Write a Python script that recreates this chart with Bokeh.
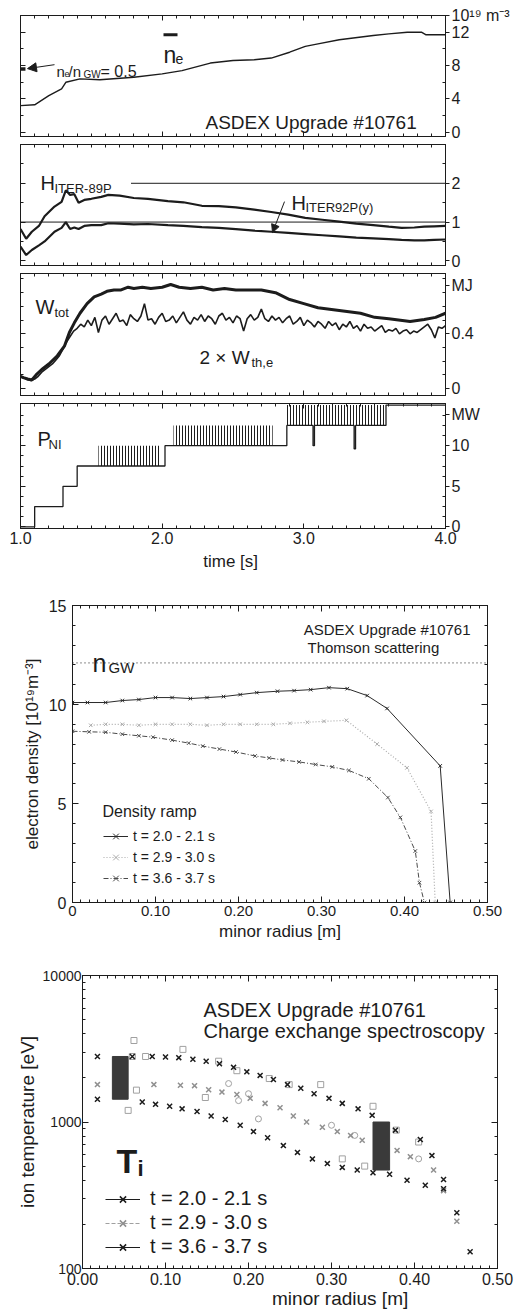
import math
from bokeh.plotting import figure
from bokeh.layouts import column
from bokeh.models import (Range1d, LinearAxis, LogAxis, FixedTicker, Label, Arrow, NormalHead,
                          BoxAnnotation, Span, PrintfTickFormatter, Legend, LegendItem,
                          CustomLabelingPolicy)
from bokeh.embed import file_html
from bokeh.resources import INLINE

FONT = "Liberation Sans"
INK = "#1c1c1c"

# ---------------- time traces, ASDEX Upgrade #10761 ----------------
t_ne = [1.0, 1.1, 1.2, 1.29, 1.32, 1.42, 1.56, 1.8, 2.0, 2.14, 2.34, 2.5, 2.65, 2.77, 2.9,
        3.01, 3.1, 3.25, 3.49, 3.6, 3.73, 3.83, 3.86, 4.0]
ne = [3.2, 3.3, 4.4, 5.2, 6.0, 6.4, 6.3, 6.6, 7.0, 7.4, 8.3, 8.6, 8.7, 8.9, 9.6,
      10.3, 10.6, 11.1, 11.6, 11.8, 12.0, 12.0, 11.7, 11.7]
ne_half_t = [1.0, 1.035]
ne_half = [7.6, 7.6]

t_h = [1.0, 1.04, 1.08, 1.13, 1.17, 1.24, 1.29, 1.32, 1.35, 1.38, 1.41, 1.45, 1.5, 1.57, 1.62,
       1.7, 1.8, 1.9, 2.04, 2.15, 2.28, 2.4, 2.52, 2.65, 2.77, 2.89, 3.01, 3.13, 3.25, 3.37,
       3.49, 3.6, 3.69, 3.78, 3.85, 3.92, 4.0]
h89 = [0.82, 0.57, 0.75, 0.90, 1.15, 1.40, 1.52, 1.82, 1.70, 1.72, 1.50, 1.57, 1.60, 1.65, 1.70,
       1.68, 1.62, 1.60, 1.54, 1.51, 1.42, 1.41, 1.38, 1.32, 1.26, 1.19, 1.11, 1.06, 1.01, 0.96,
       0.92, 0.88, 0.85, 0.86, 0.88, 0.89, 0.90]
h92 = [0.37, 0.15, 0.28, 0.40, 0.50, 0.75, 0.85, 1.00, 0.82, 0.86, 0.82, 0.90, 0.92, 0.92, 0.97,
       0.96, 0.94, 0.95, 0.92, 0.90, 0.87, 0.85, 0.82, 0.78, 0.75, 0.72, 0.69, 0.66, 0.63, 0.60,
       0.58, 0.56, 0.54, 0.53, 0.53, 0.54, 0.55]
h_ref_t = [1.78, 4.0]
h_ref2 = [2.0, 2.0]
h_ref1 = 1.0

t_wtot = [1.0, 1.02, 1.05, 1.08, 1.11, 1.15, 1.2, 1.26, 1.31, 1.345, 1.38, 1.42, 1.47, 1.52, 1.57,
          1.61, 1.66, 1.71, 1.76, 1.8, 1.86, 1.92, 2.0, 2.06, 2.12, 2.2, 2.28, 2.36, 2.44, 2.52,
          2.6, 2.7, 2.8, 2.9, 3.0, 3.1, 3.25, 3.4, 3.5, 3.6, 3.75, 3.85, 3.93, 4.0]
wtot = [0.09, 0.08, 0.07, 0.063, 0.10, 0.14, 0.18, 0.24, 0.31, 0.41, 0.48, 0.55, 0.62, 0.67, 0.69,
        0.71, 0.72, 0.72, 0.74, 0.73, 0.74, 0.73, 0.74, 0.76, 0.74, 0.73, 0.74, 0.72, 0.73, 0.72,
        0.72, 0.72, 0.70, 0.65, 0.62, 0.59, 0.57, 0.55, 0.52, 0.51, 0.49, 0.505, 0.52, 0.55]

t_wth = [1.000, 1.025, 1.050, 1.075, 1.100, 1.125, 1.150, 1.175, 1.200, 1.225, 1.250, 1.275,
         1.300, 1.325, 1.350, 1.375, 1.400, 1.425, 1.450, 1.475, 1.500, 1.525, 1.550, 1.575,
         1.600, 1.625, 1.650, 1.675, 1.700, 1.725, 1.750, 1.775, 1.800, 1.825, 1.850, 1.875,
         1.900, 1.925, 1.950, 1.975, 2.000, 2.025, 2.050, 2.075, 2.100, 2.125, 2.150, 2.175,
         2.200, 2.225, 2.250, 2.275, 2.300, 2.325, 2.350, 2.375, 2.400, 2.425, 2.450, 2.475,
         2.500, 2.525, 2.550, 2.575, 2.600, 2.625, 2.650, 2.675, 2.700, 2.725, 2.750, 2.775,
         2.800, 2.825, 2.850, 2.875, 2.900, 2.925, 2.950, 2.975, 3.000, 3.025, 3.050, 3.075,
         3.100, 3.125, 3.150, 3.175, 3.200, 3.225, 3.250, 3.275, 3.300, 3.325, 3.350, 3.375,
         3.400, 3.425, 3.450, 3.475, 3.500, 3.525, 3.550, 3.575, 3.600, 3.625, 3.650, 3.675,
         3.700, 3.725, 3.750, 3.775, 3.800, 3.825, 3.850, 3.875, 3.900, 3.925, 3.950, 3.975,
         4.000]
wth = [0.09, 0.08, 0.065, 0.06, 0.07, 0.09, 0.12, 0.14, 0.16, 0.18, 0.21, 0.24,
       0.29, 0.34, 0.38, 0.42, 0.44, 0.47, 0.45, 0.50, 0.46, 0.52, 0.41, 0.50,
       0.53, 0.47, 0.51, 0.55, 0.49, 0.50, 0.46, 0.54, 0.51, 0.49, 0.53, 0.62,
       0.50, 0.51, 0.47, 0.52, 0.55, 0.49, 0.50, 0.53, 0.48, 0.52, 0.56, 0.50,
       0.47, 0.52, 0.50, 0.54, 0.49, 0.53, 0.51, 0.47, 0.53, 0.55, 0.50, 0.52,
       0.48, 0.53, 0.51, 0.42, 0.51, 0.54, 0.50, 0.52, 0.58, 0.51, 0.49, 0.53,
       0.50, 0.52, 0.48, 0.51, 0.53, 0.47, 0.49, 0.52, 0.46, 0.50, 0.48, 0.45,
       0.49, 0.47, 0.44, 0.49, 0.46, 0.48, 0.43, 0.47, 0.45, 0.49, 0.44, 0.46,
       0.42, 0.47, 0.44, 0.45, 0.42, 0.44, 0.46, 0.41, 0.43, 0.42, 0.44, 0.40,
       0.42, 0.43, 0.40, 0.42, 0.41, 0.43, 0.45, 0.47, 0.43, 0.37, 0.45, 0.44,
       0.46]

pni_t = [1.0, 1.1, 1.3, 1.4, 2.02, 2.88, 3.065, 3.075, 3.355, 3.365, 3.58, 4.0]
pni = [0.0, 2.5, 5.0, 7.5, 10.0, 12.5, 10.0, 12.5, 9.6, 12.5, 15.0, 15.0]
mod_start = [1.55, 2.08, 2.88]
mod_end = [1.98, 2.78, 3.58]
mod_base = [7.5, 10.0, 12.5]
mod_top = [10.0, 12.5, 15.0]

time_ticks = [1.0, 2.0, 3.0, 4.0]
ne_ticks = [0, 4, 8, 12]
h_ticks = [0, 1, 2]
w_ticks = [0, 0.4]
p_ticks = [0, 5, 10]
ne_unit_at, ne_unit = 13.95, "10\u00b9\u2079 m\u207b\u00b3"
w_unit_at, w_unit = 0.75, "MJ"
p_unit_at, p_unit = 13.86, "MW"

# ---------------- Thomson density profiles ----------------
r_ne1 = [0.0, 0.018, 0.04, 0.06, 0.08, 0.10, 0.12, 0.142, 0.162, 0.182, 0.202, 0.222, 0.247,
         0.267, 0.287, 0.309, 0.331, 0.355, 0.379, 0.443, 0.455]
ne_p1 = [10.1, 10.1, 10.1, 10.2, 10.25, 10.35, 10.35, 10.3, 10.35, 10.4, 10.5, 10.6, 10.67,
         10.7, 10.75, 10.85, 10.8, 10.45, 9.8, 6.9, 0.0]
r_ne2 = [0.022, 0.04, 0.06, 0.08, 0.10, 0.12, 0.142, 0.162, 0.182, 0.202, 0.222, 0.242, 0.262,
         0.283, 0.303, 0.33, 0.367, 0.403, 0.432, 0.437]
ne_p2 = [8.95, 9.0, 9.0, 8.95, 9.0, 9.0, 9.0, 8.95, 9.0, 9.0, 9.0, 9.0, 9.05,
         9.1, 9.15, 9.2, 8.0, 6.8, 4.6, 0.0]
r_ne3 = [0.0, 0.02, 0.04, 0.06, 0.08, 0.097, 0.12, 0.14, 0.157, 0.177, 0.197, 0.22, 0.237,
         0.253, 0.273, 0.293, 0.313, 0.333, 0.357, 0.38, 0.395, 0.413, 0.418, 0.424]
ne_p3 = [8.65, 8.62, 8.6, 8.5, 8.42, 8.35, 8.2, 8.05, 7.9, 7.75, 7.6, 7.4, 7.3,
         7.2, 7.1, 6.97, 6.85, 6.67, 6.25, 5.3, 4.3, 2.6, 1.0, 0.0]
n_gw = 12.1
series_labels = ["t = 2.0 - 2.1 s", "t = 2.9 - 3.0 s", "t = 3.6 - 3.7 s"]
r_ticks = [0.0, 0.1, 0.2, 0.3, 0.4, 0.5]
dens_ticks = [0, 5, 10, 15]

# ---------------- CXRS ion temperature ----------------
rA = [0.018, 0.06, 0.084, 0.10, 0.116, 0.133, 0.149, 0.165, 0.182, 0.198, 0.214, 0.23, 0.247,
      0.263, 0.279, 0.297, 0.313, 0.332, 0.349, 0.377, 0.407, 0.421, 0.435, 0.451, 0.467]
TA = [2800, 2800, 2800, 2780, 2750, 2680, 2600, 2500, 2360, 2200, 2080, 1950, 1800,
      1700, 1560, 1450, 1340, 1230, 1110, 880, 760, 590, 405, 240, 130]
rB = [0.018, 0.086, 0.118, 0.135, 0.152, 0.168, 0.186, 0.202, 0.22, 0.238, 0.254, 0.27, 0.289,
      0.307, 0.323, 0.337, 0.379, 0.395, 0.423, 0.435, 0.451]
TB = [1800, 1800, 1780, 1770, 1660, 1600, 1540, 1450, 1340, 1250, 1100, 1000, 920,
      860, 810, 750, 640, 580, 470, 340, 210]
rC = [0.018, 0.072, 0.088, 0.105, 0.12, 0.138, 0.155, 0.172, 0.19, 0.206, 0.223, 0.242, 0.259,
      0.277, 0.295, 0.313, 0.331, 0.35, 0.37, 0.391, 0.413, 0.435]
TC = [1430, 1370, 1320, 1280, 1230, 1180, 1100, 1040, 950, 860, 780, 690, 620,
      560, 520, 490, 470, 450, 440, 400, 370, 350]
rS = [0.06, 0.076, 0.062, 0.121, 0.164, 0.186, 0.225, 0.249, 0.287, 0.35, 0.378, 0.405,
      0.065, 0.148, 0.313, 0.34, 0.055]
TS = [2800, 2800, 3600, 3130, 2600, 2240, 1980, 1800, 1800, 1280, 880, 730,
      1650, 1470, 560, 500, 1200]
rO = [0.176, 0.2, 0.212, 0.3, 0.328, 0.188, 0.405]
TO = [1830, 1560, 1050, 950, 810, 1400, 560]
box_left = [0.036, 0.350]
box_right = [0.055, 0.370]
box_bottom = [1430, 470]
box_top = [2800, 1000]


# ---------------- helpers ----------------
def conv(L, T, W, H, xr, yr, logy=False):
    x0, x1 = xr
    y0, y1 = yr

    def fx(px):
        return x0 + (px - L) / W * (x1 - x0)

    if logy:
        def fy(py):
            a, b = math.log10(y0), math.log10(y1)
            return 10 ** (b - (py - T) / H * (b - a))
    else:
        def fy(py):
            return y1 - (py - T) / H * (y1 - y0)
    return fx, fy


def put(p, cv, px, py, text, size, align="left", style="normal", color=INK, baseline="alphabetic"):
    fx, fy = cv
    p.add_layout(Label(x=fx(px), y=fy(py), text=text, text_font=FONT, text_font_size=f"{size}px",
                       text_align=align, text_baseline=baseline, text_color=color,
                       text_font_style=style))


def style(ax, tin=5, tout=0, min_in=3, min_out=0, labels=True, size=15, standoff=3):
    ax.major_tick_in = tin
    ax.major_tick_out = tout
    ax.minor_tick_in = min_in
    ax.minor_tick_out = min_out
    ax.axis_line_color = INK
    ax.major_tick_line_color = INK
    ax.minor_tick_line_color = INK
    ax.major_label_text_font = FONT
    ax.major_label_text_color = INK
    if labels:
        ax.major_label_text_font_size = f"{size}px"
        ax.major_label_standoff = standoff
    else:
        ax.major_label_text_font_size = "1px"
        ax.major_label_standoff = 0
        ax.formatter = PrintfTickFormatter(format="%g")
        ax.major_label_policy = CustomLabelingPolicy(
            code="for (const i of indices) { indices.unset(i) }; return indices")
    ax.axis_label_text_font = FONT
    ax.axis_label_text_font_style = "normal"
    ax.axis_label_text_color = INK


def new_fig(**kw):
    p = figure(output_backend="svg", toolbar_location=None, **kw)
    try:
        p.frame_align = False
    except Exception:
        pass
    p.outline_line_color = INK
    p.grid.visible = False
    p.background_fill_color = "white"
    p.border_fill_color = "white"
    return p


TL, TW, TRB = 20, 425, 75
time_minor = [round(1.0 + 0.1 * i, 2) for i in range(31)]


def top_panel(fig_top, frame_top, frame_h, bottom_border, yr, yticks, yminor, unit_at, unit,
              xlabels=False):
    bt = frame_top - fig_top
    p = new_fig(width=TL + TW + TRB, height=bt + frame_h + bottom_border,
                x_range=Range1d(1.0, 4.0), y_range=Range1d(*yr), y_axis_location="right",
                min_border_left=TL, min_border_right=TRB, min_border_top=bt,
                min_border_bottom=bottom_border)
    xt = FixedTicker(ticks=time_ticks, minor_ticks=time_minor)
    b = p.xaxis[0]
    b.ticker = xt
    style(b, 5, 0, 3, 0, labels=xlabels, size=16, standoff=3)
    if xlabels:
        b.formatter = PrintfTickFormatter(format="%.1f")
    top = LinearAxis(ticker=xt)
    style(top, 5, 0, 3, 0, labels=False)
    p.add_layout(top, "above")
    r = p.yaxis[0]
    r.ticker = FixedTicker(ticks=list(yticks) + [unit_at], minor_ticks=yminor)
    style(r, 0, 4, 3, 0, labels=True, size=16, standoff=2)
    r.major_label_overrides = {unit_at: unit}
    lft = LinearAxis(ticker=FixedTicker(ticks=yticks, minor_ticks=yminor))
    style(lft, 5, 0, 3, 0, labels=False)
    p.add_layout(lft, "left")
    return p, b


# ---------------- panel 1: line-averaged density ----------------
yr1 = (-0.5, 14.0)
p1, _ = top_panel(0, 15, 123, 2, yr1, ne_ticks, [2, 6, 10], ne_unit_at, ne_unit)
c1 = conv(TL, 15, TW, 123, (1, 4), yr1)
p1.line(t_ne, ne, line_color=INK, line_width=1.4)
p1.line(ne_half_t, ne_half, line_color=INK, line_width=3.5)
put(p1, c1, 163, 55, "n", 23)
put(p1, c1, 175, 59, "e", 14)
p1.add_layout(BoxAnnotation(left=c1[0](163), right=c1[0](177), top=c1[1](33), bottom=c1[1](36),
                            fill_color=INK, fill_alpha=1, line_alpha=0))
put(p1, c1, 56, 72, "n", 15)
put(p1, c1, 64, 74, "e", 9)
put(p1, c1, 68, 72, "/n", 15)
put(p1, c1, 83, 75, "GW", 10)
put(p1, c1, 100, 72, "= 0.5", 16)
p1.add_layout(Arrow(end=NormalHead(size=9, fill_color=INK, line_color=INK),
                    x_start=c1[0](54), y_start=c1[1](65), x_end=c1[0](27), y_end=c1[1](69),
                    line_color=INK, line_width=1))
put(p1, c1, 205, 124, "ASDEX Upgrade #10761", 19)

# ---------------- panel 2: confinement factors ----------------
yr2 = (-0.12, 3.0)
p2, _ = top_panel(140, 143, 125, 1, yr2, h_ticks, [0.5, 1.5, 2.5], -5.0, "")
c2 = conv(TL, 143, TW, 125, (1, 4), yr2)
p2.add_layout(Span(location=h_ref1, dimension="width", line_color=INK, line_width=1))
p2.line(h_ref_t, h_ref2, line_color=INK, line_width=1)
p2.line(t_h, h89, line_color=INK, line_width=2.2)
p2.line(t_h, h92, line_color=INK, line_width=2.2)
put(p2, c2, 40, 183, "H", 20)
put(p2, c2, 54, 188, "ITER-89P", 13)
put(p2, c2, 291, 203, "H", 20)
put(p2, c2, 305, 208, "ITER92P(y)", 13)
p2.add_layout(Arrow(end=NormalHead(size=8, fill_color=INK, line_color=INK),
                    x_start=c2[0](284), y_start=c2[1](202), x_end=c2[0](272), y_end=c2[1](234),
                    line_color=INK, line_width=1))

# ---------------- panel 3: stored energy ----------------
yr3 = (-0.05, 0.84)
p3, _ = top_panel(269, 270, 127, 2, yr3, w_ticks, [0.1, 0.2, 0.3, 0.5, 0.6, 0.7, 0.8],
                  w_unit_at, w_unit)
c3 = conv(TL, 270, TW, 127, (1, 4), yr3)
p3.line(t_wtot, wtot, line_color=INK, line_width=3)
p3.line(t_wth, wth, line_color=INK, line_width=1.6)
put(p3, c3, 35, 305, "W", 20)
put(p3, c3, 54, 311, "tot", 13)
put(p3, c3, 199, 357, "2 \u00d7 W", 19)
put(p3, c3, 251, 363, "th,e", 13)

# ---------------- panel 4: NBI power ----------------
yr4 = (-0.2, 15.2)
p4, b4 = top_panel(399, 402, 126, 48, yr4, p_ticks, [1.25 * i for i in range(13) if i % 4],
                   p_unit_at, p_unit, xlabels=True)
c4 = conv(TL, 402, TW, 126, (1, 4), yr4)
p4.quad(left=mod_start, right=mod_end, bottom=mod_base, top=mod_top, fill_alpha=0,
        line_alpha=0, hatch_pattern="vertical_line", hatch_color=INK, hatch_scale=3,
        hatch_weight=1)
p4.step(pni_t, pni, mode="after", line_color=INK, line_width=1.3)
b4.axis_label = "time  [s]"
b4.axis_label_text_font_size = "17px"
b4.axis_label_standoff = 5
put(p4, c4, 37, 438, "P", 20)
put(p4, c4, 48, 443, "NI", 13)

# ---------------- density profiles ----------------
ML, MT, MW_, MH = 72, 605, 415, 297
yr5 = (0, 15)
p5 = new_fig(width=ML + MW_ + 25, height=29 + MH + 50, x_range=Range1d(0, 0.5),
             y_range=Range1d(*yr5), min_border_left=ML, min_border_right=25,
             min_border_top=29, min_border_bottom=50)
c5 = conv(ML, MT, MW_, MH, (0, 0.5), yr5)
r_minor = [round(0.01 * i, 2) for i in range(51)]
ax = p5.xaxis[0]
ax.ticker = FixedTicker(ticks=r_ticks, minor_ticks=r_minor)
style(ax, 6, 0, 3, 0, labels=True, size=15, standoff=3)
ax.formatter = PrintfTickFormatter(format="%.2f")
ax.major_label_overrides = {0.0: "0"}
ax.axis_label = "minor radius [m]"
ax.axis_label_text_font_size = "17px"
ax.axis_label_standoff = 3
ay = p5.yaxis[0]
ay.ticker = FixedTicker(ticks=dens_ticks, minor_ticks=list(range(16)))
style(ay, 6, 0, 3, 0, labels=True, size=16, standoff=6)
ay.axis_label = "electron density [10\u00b9\u2079m\u207b\u00b3]"
ay.axis_label_text_font_size = "17px"
ay.axis_label_standoff = 4
a_top = LinearAxis(ticker=FixedTicker(ticks=r_ticks, minor_ticks=r_minor))
style(a_top, 6, 0, 3, 0, labels=False)
p5.add_layout(a_top, "above")
a_right = LinearAxis(ticker=FixedTicker(ticks=dens_ticks, minor_ticks=list(range(16))))
style(a_right, 6, 0, 3, 0, labels=False)
p5.add_layout(a_right, "right")
p5.add_layout(Span(location=n_gw, dimension="width", line_color=INK, line_width=1,
                   line_dash="1 3"))
l1 = p5.line(r_ne1, ne_p1, line_color="#2a2a2a", line_width=1)
s1 = p5.scatter(r_ne1, ne_p1, marker="x", size=5, line_color="#2a2a2a", line_width=1)
l2 = p5.line(r_ne2, ne_p2, line_color="#aaaaaa", line_width=1.2, line_dash="1 2")
s2 = p5.scatter(r_ne2, ne_p2, marker="x", size=5, line_color="#aaaaaa", line_width=1)
l3 = p5.line(r_ne3, ne_p3, line_color="#4a4a4a", line_width=1, line_dash="5 2 1 2")
s3 = p5.scatter(r_ne3, ne_p3, marker="x", size=5, line_color="#4a4a4a", line_width=1)
leg5 = Legend(items=[LegendItem(label=series_labels[0], renderers=[l1, s1]),
                     LegendItem(label=series_labels[1], renderers=[l2, s2]),
                     LegendItem(label=series_labels[2], renderers=[l3, s3])],
              location=(31, 14), padding=0, margin=0, spacing=1, glyph_width=25,
              glyph_height=20, label_height=20, label_standoff=5,
              label_text_font=FONT, label_text_font_size="14px", label_text_color=INK,
              border_line_alpha=0, background_fill_alpha=0)
p5.add_layout(leg5)
put(p5, c5, 470, 629, "ASDEX Upgrade #10761", 15, align="right")
put(p5, c5, 307, 647, "Thomson scattering", 15)
put(p5, c5, 92, 662, "n", 25)
put(p5, c5, 108, 667, "GW", 15)
put(p5, c5, 102, 811, "Density ramp", 16)

# ---------------- ion temperature profiles ----------------
BL, BT, BW, BH = 82, 975, 415, 293
yr6 = (100, 10000)
p6 = new_fig(width=BL + BW + 20, height=23 + BH + 47, x_range=Range1d(0, 0.5),
             y_range=Range1d(*yr6), y_axis_type="log", min_border_left=BL,
             min_border_right=20, min_border_top=23, min_border_bottom=47)
c6 = conv(BL, BT, BW, BH, (0, 0.5), yr6, logy=True)
bx = p6.xaxis[0]
bx.ticker = FixedTicker(ticks=r_ticks, minor_ticks=r_minor)
style(bx, 6, 0, 3, 0, labels=True, size=16, standoff=4)
bx.formatter = PrintfTickFormatter(format="%.2f")
bx.axis_label = "\u00a0" * 19 + "minor radius [m]"
bx.axis_label_text_font_size = "19px"
bx.axis_label_standoff = 0
by = p6.yaxis[0]
style(by, 6, 0, 3, 0, labels=True, size=14, standoff=1)
by.formatter = PrintfTickFormatter(format="%d")
by.axis_label = "ion temperature [eV]"
by.axis_label_text_font_size = "19px"
by.axis_label_standoff = 2
tx = LinearAxis(ticker=FixedTicker(ticks=r_ticks, minor_ticks=r_minor))
style(tx, 6, 0, 3, 0, labels=False)
p6.add_layout(tx, "above")
ry = LogAxis()
style(ry, 6, 0, 3, 0, labels=False)
p6.add_layout(ry, "right")
p6.quad(left=box_left, right=box_right, bottom=box_bottom, top=box_top, fill_color="#3a3a3a",
        line_color="#3a3a3a")
p6.scatter(rS, TS, marker="square", size=6, fill_alpha=0, line_color="#a0a0a0", line_width=1)
p6.scatter(rO, TO, marker="circle", size=6, fill_alpha=0, line_color="#a0a0a0", line_width=1)
sa = p6.scatter(rA, TA, marker="x", size=7, line_color=INK, line_width=1.5)
sb = p6.scatter(rB, TB, marker="x", size=7, line_color="#909090", line_width=1.5)
sc = p6.scatter(rC, TC, marker="x", size=7, line_color=INK, line_width=1.5)
la = p6.line(rA[:1], TA[:1], line_color=INK, line_width=1.2)
lb = p6.line(rB[:1], TB[:1], line_color="#a0a0a0", line_width=1.2, line_dash="4 2")
lc = p6.line(rC[:1], TC[:1], line_color=INK, line_width=1.2)
leg6 = Legend(items=[LegendItem(label=series_labels[0], renderers=[la, sa]),
                     LegendItem(label=series_labels[1], renderers=[lb, sb]),
                     LegendItem(label=series_labels[2], renderers=[lc, sc])],
              location=(23, 10), padding=0, margin=0, spacing=1, glyph_width=35,
              glyph_height=22, label_height=22, label_standoff=10,
              label_text_font=FONT, label_text_font_size="20px", label_text_color=INK,
              border_line_alpha=0, background_fill_alpha=0)
p6.add_layout(leg6)
put(p6, c6, 203, 1009, "ASDEX Upgrade #10761", 20)
put(p6, c6, 203, 1030, "Charge exchange spectroscopy", 20)
put(p6, c6, 116, 1160, "T", 34, style="bold")
put(p6, c6, 137, 1168, "i", 22, style="bold")

layout = column(p1, p2, p3, p4, p5, p6, spacing=0)
open("out.html", "w").write(file_html(layout, INLINE))
